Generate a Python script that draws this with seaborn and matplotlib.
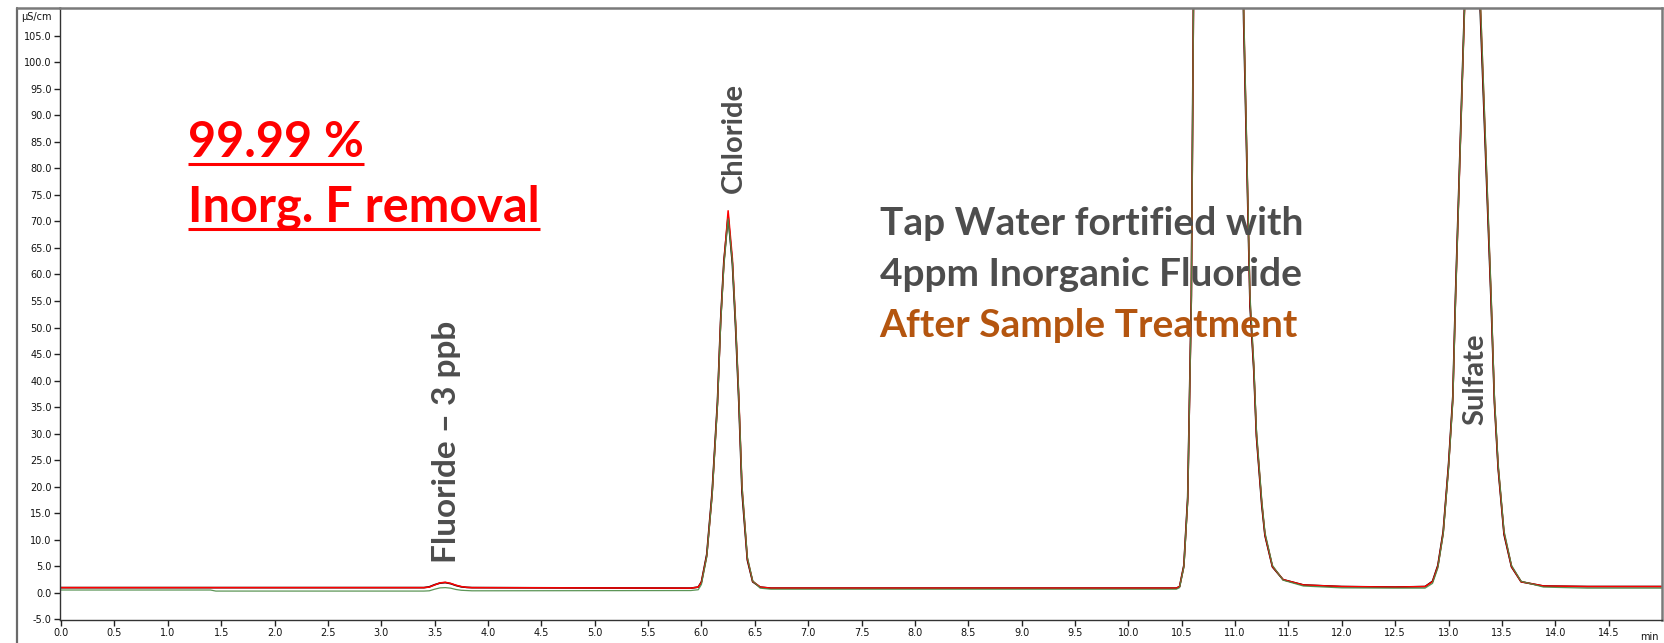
import matplotlib
matplotlib.use("Agg")
import matplotlib.pyplot as plt
from matplotlib.lines import Line2D
from matplotlib.ticker import FormatStrFormatter, MultipleLocator
import seaborn as sns
import pandas as pd

# Retention time grid (minutes) shared by the three overlaid chromatograms
time_min = [0.00, 1.40, 1.45, 3.40, 3.45, 3.50, 3.55, 3.60, 3.65, 3.70, 3.75, 3.80, 3.85,
            5.90, 5.97, 6.00, 6.05, 6.10, 6.15, 6.18, 6.21, 6.25, 6.29, 6.32, 6.35, 6.38,
            6.43, 6.48, 6.55, 6.65, 10.45, 10.48, 10.52, 10.556, 10.59, 10.61, 10.65, 10.75,
            10.85, 10.95, 11.05, 11.08, 11.14, 11.175, 11.20, 11.25, 11.28, 11.35, 11.45,
            11.64, 12.00, 12.50, 12.78, 12.85, 12.90, 12.95, 13.00, 13.04, 13.065, 13.15,
            13.22, 13.30, 13.40, 13.43, 13.465, 13.52, 13.59, 13.68, 13.89, 14.30, 15.00]

# Conductivity (µS/cm) for each injection
signal_black = [1.0, 1.0, 1.0, 1.0, 1.15, 1.55, 1.85, 1.95, 1.75, 1.4, 1.15, 1.05, 1.0,
                0.9, 1.1, 2.1, 7.3, 19.0, 36.0, 51.5, 62.5, 71.0, 62.0, 50.0, 36.0, 19.0,
                6.2, 2.1, 1.1, 0.9, 0.9, 1.2, 5.2, 18.0, 56.0, 112.0, 160.0, 240.0,
                260.0, 220.0, 150.0, 108.0, 54.0, 42.0, 29.5, 16.5, 10.8, 4.9, 2.5,
                1.5, 1.2, 1.1, 1.2, 2.2, 5.2, 11.6, 24.2, 37.0, 56.0, 111.0,
                150.0, 108.0, 54.0, 35.8, 23.4, 11.0, 4.9, 2.1, 1.3, 1.2, 1.2]

signal_red = [1.0, 1.0, 1.0, 1.0, 1.1, 1.5, 1.9, 2.0, 1.8, 1.45, 1.2, 1.05, 1.0,
              0.9, 1.1, 2.0, 7.0, 18.5, 35.5, 51.0, 62.0, 72.0, 63.0, 51.0, 37.0, 20.0,
              6.5, 2.2, 1.1, 0.9, 0.9, 1.2, 5.0, 17.5, 55.0, 110.0, 160.0, 240.0,
              260.0, 220.0, 150.0, 110.0, 55.0, 42.7, 30.0, 17.0, 11.0, 5.0, 2.5,
              1.5, 1.2, 1.1, 1.2, 2.1, 5.0, 11.3, 23.8, 36.4, 55.0, 110.0,
              150.0, 110.0, 55.0, 36.4, 23.8, 11.3, 5.0, 2.1, 1.3, 1.2, 1.2]

signal_green = [0.55, 0.55, 0.35, 0.35, 0.4, 0.7, 0.95, 1.0, 0.9, 0.65, 0.5, 0.45, 0.4,
                0.45, 0.6, 1.6, 6.8, 18.2, 35.2, 50.5, 61.5, 70.5, 62.5, 51.0, 37.2, 20.3,
                6.8, 2.3, 0.9, 0.7, 0.7, 1.0, 4.8, 17.2, 54.5, 110.0, 160.0, 240.0,
                260.0, 220.0, 150.0, 111.0, 56.0, 43.5, 30.8, 17.5, 11.4, 5.2, 2.4,
                1.3, 0.95, 0.9, 0.9, 1.8, 4.7, 11.0, 23.3, 36.0, 54.5, 110.0,
                150.0, 111.0, 56.0, 37.0, 24.4, 11.7, 5.2, 2.2, 1.1, 0.9, 0.9]

trace_names = ["Injection 1", "Injection 2", "Injection 3"]
trace_colors = {"Injection 1": "#000000", "Injection 2": "#ff0000", "Injection 3": "#4a8a45"}

peak_labels = ["Fluoride \u2013 3 ppb", "Chloride", "Sulfate"]
peak_label_time = [3.61, 6.30, 13.25]
peak_label_base = [5.6, 75.3, 31.6]
peak_label_size = [24, 21, 21]

headline_lines = ["99.99 %", "Inorg. F removal"]
sample_lines = ["Tap Water fortified with", "4ppm Inorganic Fluoride", "After Sample Treatment"]
sample_colors = ["#4d4d4d", "#4d4d4d", "#b4550f"]

frames = []
for name, values in zip(trace_names, [signal_black, signal_red, signal_green]):
    frames.append(pd.DataFrame({"time": time_min, "signal": values, "trace": name}))
data = pd.concat(frames, ignore_index=True)

sns.set_theme(style="white")
plt.rcParams["font.family"] = ["DejaVu Sans"]

W, H = 1665, 643
fig = plt.figure(figsize=(W / 100, H / 100), dpi=100)
ax = fig.add_axes([60 / W, 23 / H, 1602 / W, 612 / H])

sns.lineplot(data=data, x="time", y="signal", hue="trace", hue_order=trace_names,
             palette=trace_colors, sort=False, estimator=None, legend=False, ax=ax)
for line, lw, alpha in zip(ax.lines, [1.2, 1.1, 0.9], [1.0, 1.0, 0.9]):
    line.set_linewidth(lw)
    line.set_alpha(alpha)

ax.set_xlim(-0.01, 15.0)
ax.set_ylim(-5.1, 110.2)
ax.xaxis.set_major_locator(MultipleLocator(0.5))
ax.yaxis.set_major_locator(MultipleLocator(5.0))
ax.xaxis.set_major_formatter(FormatStrFormatter("%.1f"))
ax.yaxis.set_major_formatter(FormatStrFormatter("%.1f"))
ax.set_xlabel("")
ax.set_ylabel("")
ax.tick_params(axis="both", which="major", direction="out", length=4, width=1,
               color="#222222", labelsize=7, labelcolor="#111111", pad=2,
               bottom=True, left=True)
ax.set_yticks([v for v in ax.get_yticks() if -5.0 <= v <= 105.0])
ax.set_xticks([v for v in ax.get_xticks() if 0.0 <= v <= 14.5])

for side in ["left", "bottom"]:
    ax.spines[side].set_color("#333333")
    ax.spines[side].set_linewidth(1.0)
for side in ["top", "right"]:
    ax.spines[side].set_color("#7a7a7a")
    ax.spines[side].set_linewidth(1.8)

# outer panel frame around the axis labels
frame_x = 17 / W
frame_top = 1 - 8 / H
fig.add_artist(Line2D([frame_x, frame_x], [0, frame_top], transform=fig.transFigure,
                      color="#6a6a6a", lw=1.6))
fig.add_artist(Line2D([frame_x, 60 / W], [frame_top, frame_top], transform=fig.transFigure,
                      color="#7a7a7a", lw=1.8))

fig.text(21 / W, 1 - 17 / H, "\u00b5S/cm", fontsize=7, ha="left", va="center", color="#111111")
fig.text(1659 / W, 1 / H, "min", fontsize=7, ha="right", va="bottom", color="#111111")

# peak names, rotated above each peak
for label, t, base, size in zip(peak_labels, peak_label_time, peak_label_base, peak_label_size):
    ax.text(t, base, label, rotation=90, ha="center", va="bottom", fontsize=size,
            fontweight="bold", family=["Lato", "DejaVu Sans"], color="#4d4d4d")

# sample description
for i, (txt, col) in enumerate(zip(sample_lines, sample_colors)):
    ax.text(7.67, 67.4 - 9.6 * i, txt, ha="left", va="baseline", fontsize=28,
            fontweight="bold", family=["Lato", "DejaVu Sans"], color=col)

# removal headline, underlined
headline_texts = []
for i, txt in enumerate(headline_lines):
    t = ax.text(1.19, 82.1 - 12.2 * i, txt, ha="left", va="baseline", fontsize=35,
                fontweight="bold", family=["Lato", "DejaVu Sans"], color="#ff0000")
    headline_texts.append(t)

fig.canvas.draw()
renderer = fig.canvas.get_renderer()
for t in headline_texts:
    bb = t.get_window_extent(renderer)
    base_y = ax.transData.transform(t.get_position())[1]
    uy = (base_y - 7) / fig.bbox.height
    fig.add_artist(Line2D([bb.x0 / fig.bbox.width, bb.x1 / fig.bbox.width], [uy, uy],
                          transform=fig.transFigure, color="#ff0000", lw=2.2,
                          solid_capstyle="butt"))

fig.savefig("out.png", dpi=100)
